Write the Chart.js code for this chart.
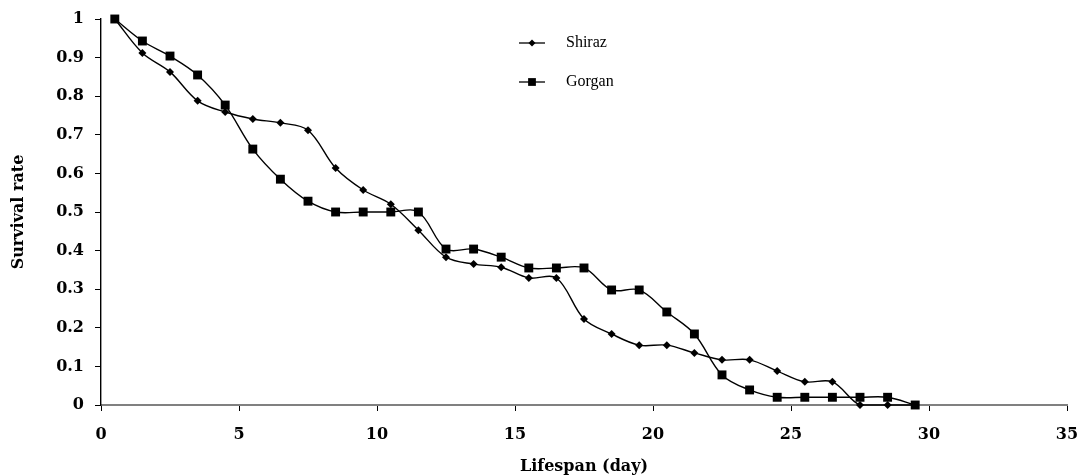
<!DOCTYPE html>
<html>
<head>
<meta charset="utf-8">
<script src="https://cdn.jsdelivr.net/npm/chart.js@4/dist/chart.umd.min.js"></script>
<style>
  html, body { margin: 0; padding: 0; background: #fff; }
  #wrap { width: 1086px; height: 476px; position: relative; }
</style>
</head>
<body>
<div id="wrap"><canvas id="myChart"></canvas></div>
<script>
// lifespan in days (mid-interval)
const days = [0.5, 1.5, 2.5, 3.5, 4.5, 5.5, 6.5, 7.5, 8.5, 9.5, 10.5, 11.5, 12.5, 13.5, 14.5,
  15.5, 16.5, 17.5, 18.5, 19.5, 20.5, 21.5, 22.5, 23.5, 24.5, 25.5, 26.5, 27.5, 28.5, 29.5];

const shiraz = [1, 0.912, 0.863, 0.788, 0.759, 0.741, 0.731, 0.712, 0.614, 0.557, 0.52, 0.453, 0.383, 0.365, 0.357,
  0.329, 0.329, 0.223, 0.184, 0.155, 0.155, 0.135, 0.117, 0.117, 0.088, 0.06, 0.06, 0, 0, 0];

const gorgan = [1, 0.943, 0.904, 0.855, 0.777, 0.663, 0.585, 0.528, 0.5, 0.5, 0.5, 0.5, 0.404, 0.404, 0.383,
  0.355, 0.355, 0.355, 0.298, 0.298, 0.241, 0.184, 0.078, 0.039, 0.02, 0.02, 0.02, 0.02, 0.02, 0];

const seriesNames = ['Shiraz', 'Gorgan'];

const toPoints = (vals) => days.map((d, i) => ({ x: d, y: vals[i] }));

const tickFont = { family: 'DejaVu Serif', size: 16, weight: 'bold' };

// legend drawn inside the plot like the original
const innerLegend = {
  id: 'innerLegend',
  afterDraw: function (chart) {
    const ctx = chart.ctx;
    const area = chart.chartArea;
    const x0 = area.left + 418;
    const rows = [area.top + 24, area.top + 63];
    ctx.save();
    chart.data.datasets.forEach((ds, i) => {
      const y = rows[i];
      ctx.strokeStyle = '#000';
      ctx.lineWidth = 1.3;
      ctx.beginPath();
      ctx.moveTo(x0, y);
      ctx.lineTo(x0 + 26, y);
      ctx.stroke();
      ctx.fillStyle = '#000';
      Chart.helpers.drawPoint(ctx, {
        pointStyle: ds.pointStyle,
        radius: ds.pointStyle === 'rect' ? 5.5 : 3.5,
        rotation: 0,
        borderWidth: 0
      }, x0 + 13, y);
      ctx.font = '16px "Liberation Serif"';
      ctx.textBaseline = 'middle';
      ctx.textAlign = 'left';
      ctx.fillText(ds.label, x0 + 47, y);
    });
    ctx.restore();
  }
};

const context = document.getElementById('myChart');
const myChart = new Chart(context, {
  type: 'line',
  data: {
    datasets: [{
      label: seriesNames[0],
      data: toPoints(shiraz),
      borderColor: '#000',
      backgroundColor: '#000',
      borderWidth: 1.4,
      pointStyle: 'rectRot',
      pointRadius: 4,
      pointBorderWidth: 0,
      tension: 0.35,
      clip: false,
      fill: false
    }, {
      label: seriesNames[1],
      data: toPoints(gorgan),
      borderColor: '#000',
      backgroundColor: '#000',
      borderWidth: 1.4,
      pointStyle: 'rect',
      pointRadius: 6.3,
      pointBorderWidth: 0,
      tension: 0.35,
      clip: false,
      fill: false
    }]
  },
  options: {
    responsive: true,
    maintainAspectRatio: false,
    animation: false,
    layout: { autoPadding: false, padding: { top: 19, right: 19, left: 0, bottom: 0 } },
    plugins: {
      legend: { display: false },
      tooltip: { enabled: false }
    },
    scales: {
      x: {
        type: 'linear',
        min: 0,
        max: 35,
        afterFit: function (scale) {
          scale.height = 71;
          scale.paddingLeft = 0;
          scale.paddingRight = 0;
        },
        ticks: {
          stepSize: 5,
          color: '#000',
          padding: 14,
          font: tickFont
        },
        grid: { display: true, drawOnChartArea: false, drawTicks: true, tickLength: 6, color: '#000' },
        border: { display: true, color: '#808080', width: 2 },
        title: {
          display: true,
          text: 'Lifespan (day)',
          color: '#000',
          padding: { top: 8, bottom: 0 },
          font: { family: 'DejaVu Serif', size: 16, weight: 'bold' }
        }
      },
      y: {
        min: 0,
        max: 1,
        afterFit: function (scale) {
          scale.width = 101;
          scale.paddingTop = 0;
          scale.paddingBottom = 0;
        },
        ticks: {
          stepSize: 0.1,
          color: '#000',
          padding: 11,
          font: tickFont,
          callback: (v) => String(Number(v.toFixed(1)))
        },
        grid: { display: true, drawOnChartArea: false, drawTicks: true, tickLength: 6, color: '#000' },
        border: { display: true, color: '#000', width: 1.4 },
        title: {
          display: true,
          text: 'Survival rate',
          color: '#000',
          padding: { top: 9, bottom: 0 },
          font: { family: 'DejaVu Serif', size: 16, weight: 'bold' }
        }
      }
    }
  },
  plugins: [innerLegend]
});
</script>
</body>
</html>
